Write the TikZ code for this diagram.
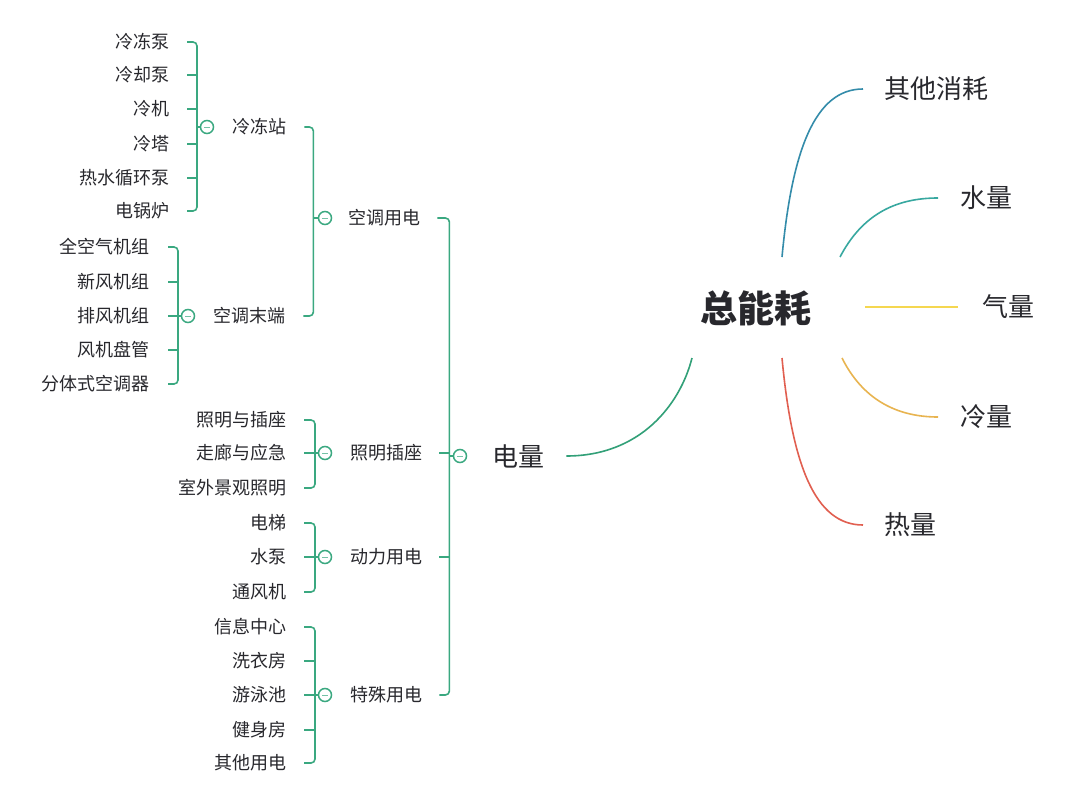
\documentclass[tikz,border=0pt]{standalone}
\usepackage{fontspec}
\newfontfamily\cjk{Noto Sans CJK SC}
\definecolor{brg}{RGB}{58,168,128}
\definecolor{txt}{RGB}{40,40,45}
\definecolor{cother}{RGB}{52,140,170}
\definecolor{cwater}{RGB}{56,168,160}
\definecolor{cgas}{RGB}{245,215,80}
\definecolor{ccold}{RGB}{232,180,80}
\definecolor{cheat}{RGB}{225,95,80}
\definecolor{cpower}{RGB}{50,160,120}
\begin{document}
\begin{tikzpicture}[x=1pt,y=-1pt,
  leaf/.style={anchor=east,inner sep=0pt,text=txt,font=\fontsize{18}{18}\selectfont\cjk},
  mid/.style={anchor=west,inner sep=0pt,text=txt,font=\fontsize{18}{18}\selectfont\cjk},
  big/.style={anchor=west,inner sep=0pt,text=txt,font=\fontsize{26}{26}\selectfont\cjk},
  rootn/.style={inner sep=0pt,text=txt,font=\fontsize{37}{37}\selectfont\cjk\bfseries},
  circ/.style={circle,draw=brg,line width=1.5pt,fill=white,minimum size=13pt,inner sep=0pt,
    path picture={\draw[brg!70,line width=0.8pt] ([xshift=-3pt]path picture bounding box.center) -- ([xshift=3pt]path picture bounding box.center);}},
  brl/.style={draw=brg,line width=1.6pt},
  curve/.style={line width=1.6pt}]
\useasboundingbox[fill=white] (0,0) rectangle (1080,806);

% ---- leaves ----
\node[leaf] (a1) at (170,42) {冷冻泵};
\node[leaf] (a2) at (170,75) {冷却泵};
\node[leaf] (a3) at (170,109) {冷机};
\node[leaf] (a4) at (170,144) {冷塔};
\node[leaf] (a5) at (170,178) {热水循环泵};
\node[leaf] (a6) at (170,211) {电锅炉};

\node[leaf] (b1) at (150,247) {全空气机组};
\node[leaf] (b2) at (150,282) {新风机组};
\node[leaf] (b3) at (150,316) {排风机组};
\node[leaf] (b4) at (150,350) {风机盘管};
\node[leaf] (b5) at (150,384) {分体式空调器};

\node[leaf] (d1) at (287,420) {照明与插座};
\node[leaf] (d2) at (287,453) {走廊与应急};
\node[leaf] (d3) at (287,488) {室外景观照明};

\node[leaf] (e1) at (287,523) {电梯};
\node[leaf] (e2) at (287,557) {水泵};
\node[leaf] (e3) at (287,592) {通风机};

\node[leaf] (f1) at (287,627) {信息中心};
\node[leaf] (f2) at (287,661) {洗衣房};
\node[leaf] (f3) at (287,695) {游泳池};
\node[leaf] (f4) at (287,730) {健身房};
\node[leaf] (f5) at (287,763) {其他用电};

% ---- middle levels ----
\node[mid] (p1) at (232,127) {冷冻站};
\node[mid] (p2) at (213,316) {空调末端};
\node[mid] (q1) at (348,218) {空调用电};
\node[mid] (q2) at (350,453) {照明插座};
\node[mid] (q3) at (350,557) {动力用电};
\node[mid] (q4) at (350,695) {特殊用电};
\node[big] (pw) at (492,456) {电量};

% ---- brackets ----
% 冷冻站
\draw[brl,rounded corners=4pt] ([xshift=17pt]a1.east) -| ([xshift=27pt]a6.east) -- ([xshift=17pt]a6.east);
\foreach \n in {a2,a3,a4,a5} \draw[brl] ([xshift=17pt]\n.east) -- ++(10,0);
% 空调末端
\draw[brl,rounded corners=4pt] ([xshift=18pt]b1.east) -| ([xshift=28pt]b5.east) -- ([xshift=18pt]b5.east);
\foreach \n in {b2,b3,b4} \draw[brl] ([xshift=18pt]\n.east) -- ++(10,0);
% 照明插座
\draw[brl,rounded corners=4pt] ([xshift=17pt]d1.east) -| ([xshift=28pt]d3.east) -- ([xshift=17pt]d3.east);
\draw[brl] ([xshift=17pt]d2.east) -- ++(11,0);
% 动力用电
\draw[brl,rounded corners=4pt] ([xshift=17pt]e1.east) -| ([xshift=28pt]e3.east) -- ([xshift=17pt]e3.east);
\draw[brl] ([xshift=17pt]e2.east) -- ++(11,0);
% 特殊用电
\draw[brl,rounded corners=4pt] ([xshift=17pt]f1.east) -| ([xshift=28pt]f5.east) -- ([xshift=17pt]f5.east);
\foreach \n in {f2,f3,f4} \draw[brl] ([xshift=17pt]\n.east) -- ++(11,0);
% 空调用电
\draw[brl,rounded corners=4pt] ([xshift=18pt]p1.east) -| ([xshift=28pt]p2.east) -- ([xshift=18pt]p2.east);
% 电量
\draw[brl,rounded corners=4pt] ([xshift=17pt]q1.east) -| ([xshift=27pt]q4.east) -- ([xshift=17pt]q4.east);
\foreach \n in {q2,q3} \draw[brl] ([xshift=17pt]\n.east) -- ++(10,0);

% ---- collapse circles ----
\node[circ] (ca) at (207,127) {};
\node[circ] (cb) at (188,316) {};
\node[circ] (cq1) at (325,218) {};
\node[circ] (cd) at (325,453) {};
\node[circ] (ce) at (325,557) {};
\node[circ] (cf) at (325,695) {};
\node[circ] (cp) at (460,456) {};
\foreach \c in {ca,cb,cq1,cd,ce,cf,cp} \draw[brl] (\c.west) -- ++(-4,0);

% ---- right side ----
\node[rootn] (root) at (756,308) {总能耗};
\node[big] (o1) at (884,89) {其他消耗};
\node[big] (o2) at (960,198) {水量};
\node[big] (o3) at (982,307) {气量};
\node[big] (o4) at (960,417) {冷量};
\node[big] (o5) at (884,525) {热量};

\coordinate (s1) at (782,257);
\coordinate (s2) at (840,257);
\coordinate (s3) at (865,307);
\coordinate (s4) at (842,358);
\coordinate (s5) at (782,358);
\coordinate (s6) at (692,358);

\draw[curve,cother] (s1) .. controls (792,150) and (815,89) .. ([xshift=-21pt]o1.west);
\draw[curve,cwater] (s2) .. controls (862,215) and (895,198) .. ([xshift=-22pt]o2.west);
\draw[curve,cgas] (s3) -- ([xshift=-24pt]o3.west);
\draw[curve,ccold] (s4) .. controls (862,398) and (895,417) .. ([xshift=-22pt]o4.west);
\draw[curve,cheat] (s5) .. controls (792,465) and (815,525) .. ([xshift=-21pt]o5.west);
\draw[curve,cpower] ([xshift=22pt]pw.east) .. controls (640,456) and (680,405) .. (s6);
\end{tikzpicture}
\end{document}
